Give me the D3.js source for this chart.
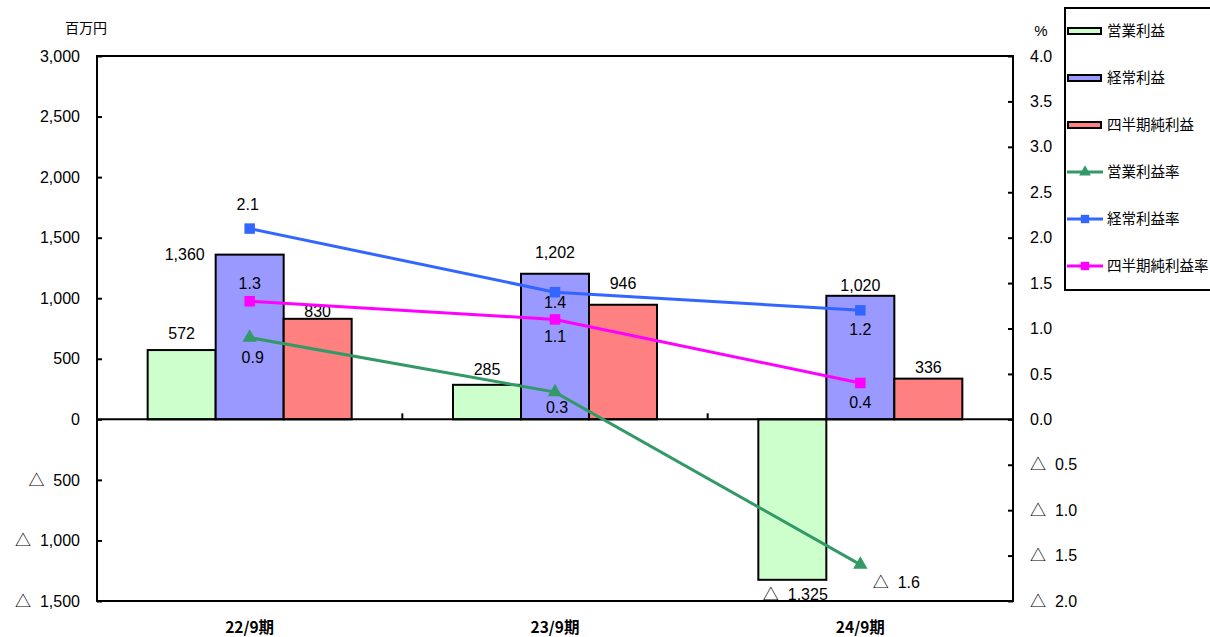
<!DOCTYPE html>
<html>
<head>
<meta charset="utf-8">
<script src="https://cdn.jsdelivr.net/npm/d3@7"></script>
<style>
  body { margin: 0; background: #fff; }
  text { font-family: "Liberation Sans", Arial, "Noto Sans CJK JP", sans-serif; fill: #000; }
  .jp { font-family: "Noto Sans CJK JP", sans-serif; }
</style>
</head>
<body>
<div id="chart"></div>
<script>
// chart data
const periods = ["22/9期", "23/9期", "24/9期"];
const operatingIncome = [572, 285, -1325];
const ordinaryIncome = [1360, 1202, 1020];
const netIncome = [830, 946, 336];
const operatingMargin = [0.9, 0.3, -1.6];
const ordinaryMargin = [2.1, 1.4, 1.2];
const netMargin = [1.3, 1.1, 0.4];
const leftTicks = [3000, 2500, 2000, 1500, 1000, 500, 0, -500, -1000, -1500];
const rightTicks = [4.0, 3.5, 3.0, 2.5, 2.0, 1.5, 1.0, 0.5, 0.0, -0.5, -1.0, -1.5, -2.0];

const barNames = ["営業利益", "経常利益", "四半期純利益"];
const barColors = ["#ccffcc", "#9999ff", "#ff8080"];
const lineNames = ["営業利益率", "経常利益率", "四半期純利益率"];
const lineColors = ["#339966", "#3366ff", "#ff00ff"];

const W = 1210, H = 637;
const plotL = 97, plotR = 1013, plotT = 56, plotB = 601;
const FS = 16;

const svg = d3.select("#chart").append("svg")
    .attr("width", W)
    .attr("height", H);

const yL = d3.scaleLinear().domain([-1500, 3000]).range([plotB, plotT]);
const yR = d3.scaleLinear().domain([-2, 4]).range([plotB, plotT]);
const x0 = d3.scaleBand().domain(periods).range([plotL, plotR]);
const x1 = d3.scaleBand().domain(barNames).range([0, x0.bandwidth()]).paddingOuter(0.745).paddingInner(0);

const fmtAmt = d3.format(",");
const fmtPct = d3.format(".1f");

// negative numbers are written with a triangle: "△ 500"
function setNum(sel, v, fmt) {
    sel.text(null);
    if (v < 0) {
        sel.append("tspan").attr("class", "jp").text("△");
        sel.append("tspan").text("\u00a0\u00a0" + fmt(-v));
    } else {
        sel.text(fmt(v));
    }
}

// frame
svg.append("rect")
    .attr("x", plotL).attr("y", plotT)
    .attr("width", plotR - plotL).attr("height", plotB - plotT)
    .attr("fill", "none").attr("stroke", "#000").attr("stroke-width", 2);

// left axis
const axL = svg.append("g").attr("transform", `translate(${plotL},0)`)
    .call(d3.axisLeft(yL).tickValues(leftTicks).tickSize(-5).tickPadding(17));
axL.select(".domain").remove();
axL.selectAll("line").attr("stroke", "#000").attr("stroke-width", 2);
axL.selectAll("text").attr("font-size", FS).style("font-family", "Liberation Sans, Arial, sans-serif")
    .each(function(d) { setNum(d3.select(this), d, fmtAmt); });

// right axis
const axR = svg.append("g").attr("transform", `translate(${plotR},0)`)
    .call(d3.axisRight(yR).tickValues(rightTicks).tickSize(-5).tickPadding(17));
axR.select(".domain").remove();
axR.selectAll("line").attr("stroke", "#000").attr("stroke-width", 2);
axR.selectAll("text").attr("font-size", FS).style("font-family", "Liberation Sans, Arial, sans-serif")
    .each(function(d) { setNum(d3.select(this), d, fmtPct); });

// axis titles
svg.append("text").attr("class", "jp").attr("x", 86).attr("y", 33)
    .attr("text-anchor", "middle").attr("font-size", 14).text("百万円");
svg.append("text").attr("x", 1041).attr("y", 36)
    .attr("text-anchor", "middle").attr("font-size", 15).text("%");

// bar label offsets [dx, dy] relative to the bar end
const barLabelPos = [
    [[0, -11], [0, -10], [3, 20]],
    [[-65, 5], [0, -16], [0, -5]],
    [[0, -2], [0, -16], [0, -6]]
];

// bars
const groups = svg.append("g").selectAll("g")
    .data(periods)
    .join("g")
    .attr("transform", d => `translate(${x0(d)},0)`);

const series = [operatingIncome, ordinaryIncome, netIncome];
groups.each(function(p, i) {
    const g = d3.select(this);
    barNames.forEach((name, k) => {
        const v = series[k][i];
        g.append("rect")
            .attr("x", x1(name))
            .attr("y", yL(Math.max(0, v)))
            .attr("width", x1.bandwidth())
            .attr("height", Math.abs(yL(v) - yL(0)))
            .attr("fill", barColors[k])
            .attr("stroke", "#000")
            .attr("stroke-width", 2);
    });
});

// zero line and category ticks
svg.append("line")
    .attr("x1", plotL).attr("x2", plotR)
    .attr("y1", yL(0)).attr("y2", yL(0))
    .attr("stroke", "#000").attr("stroke-width", 2);
svg.append("g").selectAll("line")
    .data(periods.slice(1))
    .join("line")
    .attr("x1", d => x0(d)).attr("x2", d => x0(d))
    .attr("y1", yL(0)).attr("y2", yL(0) - 6)
    .attr("stroke", "#000").attr("stroke-width", 2);

// bar labels
groups.each(function(p, i) {
    const g = d3.select(this);
    barNames.forEach((name, k) => {
        const v = series[k][i];
        const off = barLabelPos[k][i];
        g.append("text")
            .attr("x", x1(name) + x1.bandwidth() / 2 + off[0])
            .attr("y", yL(v) + off[1])
            .attr("text-anchor", "middle")
            .attr("font-size", FS)
            .call(setNum, v, fmtAmt);
    });
});

// category labels
svg.append("g").selectAll("text")
    .data(periods)
    .join("text")
    .attr("class", "jp")
    .attr("x", d => x0(d) + x0.bandwidth() / 2)
    .attr("y", 633)
    .attr("text-anchor", "middle")
    .attr("font-size", 15.5)
    .attr("font-weight", "bold")
    .text(d => d);

// lines
const cx = d => x0(d) + x0.bandwidth() / 2;
const rates = [operatingMargin, ordinaryMargin, netMargin];
const line = d3.line().x(d => cx(d.p)).y(d => yR(d.v));
// rate label offsets [dx, dy]
const labelPos = [
    [[3, 25], [2, 21], [36, 23]],
    [[-2, -19], [0, 16], [0, 25]],
    [[0, -12], [0, 23], [0, 25]]
];
rates.forEach((vals, k) => {
    const pts = vals.map((v, i) => ({ p: periods[i], v: v }));
    svg.append("path")
        .datum(pts)
        .attr("d", line)
        .attr("fill", "none")
        .attr("stroke", lineColors[k])
        .attr("stroke-width", 3);
    const sym = k === 0 ? d3.symbolTriangle : d3.symbolSquare;
    svg.append("g").selectAll("path")
        .data(pts)
        .join("path")
        .attr("transform", d => `translate(${cx(d.p)},${yR(d.v)})`)
        .attr("d", d3.symbol().type(sym).size(k === 0 ? 90 : 110))
        .attr("fill", lineColors[k]);
    svg.append("g").selectAll("text")
        .data(pts)
        .join("text")
        .attr("x", (d, i) => cx(d.p) + labelPos[k][i][0])
        .attr("y", (d, i) => yR(d.v) + labelPos[k][i][1])
        .attr("text-anchor", "middle")
        .attr("font-size", FS)
        .each(function(d) { setNum(d3.select(this), d.v, fmtPct); });
});

// legend
const lg = svg.append("g").attr("transform", "translate(1065,8)");
lg.append("rect")
    .attr("x", 0).attr("y", 0)
    .attr("width", 160).attr("height", 282)
    .attr("fill", "#fff").attr("stroke", "#000").attr("stroke-width", 2);
barNames.forEach((name, k) => {
    const y = 23 + k * 47;
    lg.append("rect")
        .attr("x", 3).attr("y", y - 3).attr("width", 33).attr("height", 6)
        .attr("fill", barColors[k]).attr("stroke", "#000").attr("stroke-width", 2);
    lg.append("text").attr("class", "jp")
        .attr("x", 42).attr("y", y + 5).attr("font-size", 14.5).text(name);
});
lineNames.forEach((name, k) => {
    const y = 23 + (k + 3) * 47;
    lg.append("line")
        .attr("x1", 2).attr("x2", 38).attr("y1", y).attr("y2", y)
        .attr("stroke", lineColors[k]).attr("stroke-width", 3);
    lg.append("path")
        .attr("transform", `translate(20,${y})`)
        .attr("d", d3.symbol().type(k === 0 ? d3.symbolTriangle : d3.symbolSquare).size(k === 0 ? 60 : 70))
        .attr("fill", lineColors[k]);
    lg.append("text").attr("class", "jp")
        .attr("x", 42).attr("y", y + 5).attr("font-size", 14.5).text(name);
});
</script>
</body>
</html>
